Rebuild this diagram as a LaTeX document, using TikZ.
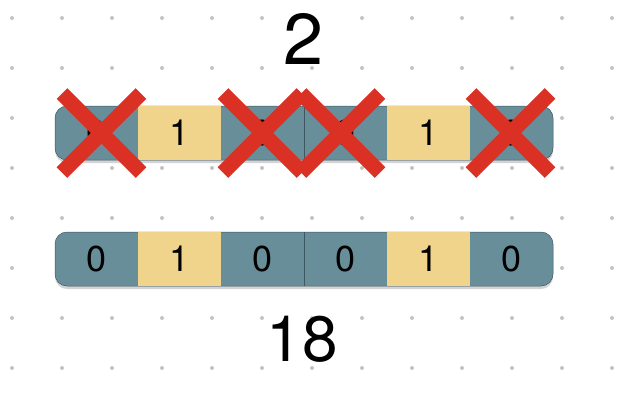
\documentclass[tikz,border=0pt]{standalone}
\usepackage{fontspec}
\setmainfont{TeX Gyre Heros}
\usetikzlibrary{positioning,shapes.misc,shadows}
\definecolor{bitteal}{RGB}{104,142,153}
\definecolor{bitgold}{RGB}{241,212,139}
\definecolor{bitred}{RGB}{218,49,36}
\definecolor{bitedge}{RGB}{62,88,98}
\definecolor{griddot}{RGB}{195,195,195}

\begin{document}
\begin{tikzpicture}[x=1pt, y=-1pt,
  bar/.style={fill=bitteal, draw=bitedge, line width=0.5pt, rounded corners=12pt,
    minimum width=498pt, minimum height=54pt, inner sep=0pt, outer sep=0pt,
    drop shadow={shadow xshift=0pt, shadow yshift=-3pt, opacity=0.35}},
  cell/.style={minimum width=83pt, minimum height=54pt, inner sep=0pt, outer sep=0pt,
    font=\fontsize{36}{36}\selectfont},
  one/.style={cell, fill=bitgold},
  nope/.style={cross out, draw=bitred, line width=15pt, minimum size=64pt,
    inner sep=0pt},
  big/.style={font=\fontsize{72}{72}\selectfont}]
\useasboundingbox (0,0) rectangle (624,400);
% dot grid
\foreach \i in {0,...,12}
  \foreach \j in {0,...,7}
    \fill[griddot] (12+50*\i, 18+50*\j) circle (2);

\node[big] (pairs) at (304,39) {2};
\node[big, font=\fontsize{64}{64}\selectfont] (total) at (302,339) {18};

% top bar, crossed out
\node[bar] (topbar) at (304,133) {};
\node[cell, right=0pt of topbar.west] (t1) {0};
\node[one, right=0pt of t1] (t2) {1};
\node[cell, right=0pt of t2] (t3) {0};
\node[cell, right=0pt of t3] (t4) {0};
\node[one, right=0pt of t4] (t5) {1};
\node[cell, right=0pt of t5] (t6) {0};
\draw[bitedge, line width=0.5pt] (t3.north east) -- (t3.south east);
\node[nope, xshift=5pt] (x1) at (t1) {};
\node[nope] (x3) at (t3) {};
\node[nope, xshift=-5pt] (x4) at (t4) {};
\node[nope, xshift=-1pt] (x6) at (t6) {};

% bottom bar
\node[bar] (lowbar) at (304,259) {};
\node[cell, right=0pt of lowbar.west] (b1) {0};
\node[one, right=0pt of b1] (b2) {1};
\node[cell, right=0pt of b2] (b3) {0};
\node[cell, right=0pt of b3] (b4) {0};
\node[one, right=0pt of b4] (b5) {1};
\node[cell, right=0pt of b5] (b6) {0};
\draw[bitedge, line width=0.5pt] (b3.north east) -- (b3.south east);
\end{tikzpicture}
\end{document}
